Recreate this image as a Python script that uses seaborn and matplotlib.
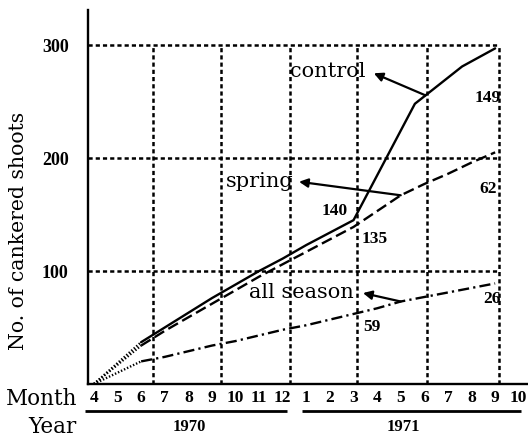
import numpy as np
import pandas as pd
import matplotlib
matplotlib.use("Agg")
import matplotlib.pyplot as plt
import matplotlib.transforms as mtransforms
import seaborn as sns

# ---------------- data (month index 0 = April 1970) ----------------
month_labels = ["4", "5", "6", "7", "8", "9", "10", "11", "12",
                "1", "2", "3", "4", "5", "6", "7", "8", "9", "10"]
years = ["1970", "1971"]
year_spans = [(-0.38, 8.2), (8.8, 18.1)]
year_label_x = [4.05, 13.1]

start_x = [0, 2]
control_start = [0, 37]
spring_start = [0, 34]
allseason_start = [0, 20]

control_x = [2, 3, 4, 5, 6, 7, 8, 9, 10, 11, 13.6, 15.6, 17]
control_y = [37, 50, 63, 76, 88, 100, 111, 123, 134, 145, 248, 281, 297]

spring_x = list(range(2, 18))
spring_y = [34, 47, 59, 71, 83, 95, 106, 117, 128, 139, 153, 167, 177, 186, 196, 205]

allseason_x = list(range(2, 18))
allseason_y = [20, 24, 29, 34, 38, 43, 48, 52, 57, 62, 67, 73, 77, 81, 85, 89]

series_names = ["control", "spring", "all season"]
name_x = [9.9, 7.03, 8.77]
name_y = [277, 179, 81]
arrow_head_x = [11.86, 8.69, 11.4]
arrow_head_y = [275, 179, 80.5]
arrow_tail_x = [14.05, 13, 13]

number_labels = ["140", "135", "59", "149", "62", "26"]
number_x = [10.2, 11.9, 11.78, 16.7, 16.7, 16.85]
number_y = [153, 128, 50, 253, 173, 75]

y_ticks = [100, 200, 300]
grid_x = [2.5, 5.4, 8.3, 11.15, 14.1, 17.15]

# ---------------- style ----------------
sns.set_theme(style="white")
plt.rcParams["font.family"] = ["DejaVu Serif", "DejaVu Sans"]
plt.rcParams["lines.scale_dashes"] = False

fig = plt.figure(figsize=(5.28, 4.38), dpi=100)
ax = fig.add_axes([0.1667, 0.1233, 0.8314, 0.8539])
XMIN, XMAX, YMAX = -0.25, 18.35, 331
ax.set_xlim(XMIN, XMAX)
ax.set_ylim(0, YMAX)

# grid (dotted, only to the last vertical line)
grid_ls = (0, (3.0, 2.2))
ax.vlines(grid_x, 0, y_ticks[-1], colors="black", linestyles=[grid_ls], linewidth=1.8, zorder=1)
ax.hlines(y_ticks, XMIN, grid_x[-1], colors="black", linestyles=[grid_ls], linewidth=1.8, zorder=1)

# early dotted segments
for ys in (control_start, spring_start, allseason_start):
    sns.lineplot(x=start_x, y=ys, ax=ax, color="black", linewidth=1.7,
                 linestyle=(0, (1.0, 1.4)), estimator=None, sort=False, zorder=3)

# main series
df_c = pd.DataFrame({"month": control_x, "shoots": control_y})
df_s = pd.DataFrame({"month": spring_x, "shoots": spring_y})
df_a = pd.DataFrame({"month": allseason_x, "shoots": allseason_y})
sns.lineplot(data=df_c, x="month", y="shoots", ax=ax, color="black", linewidth=1.7,
             linestyle="-", estimator=None, sort=False, zorder=3)
sns.lineplot(data=df_s, x="month", y="shoots", ax=ax, color="black", linewidth=1.7,
             linestyle=(0, (8.0, 3.5)), estimator=None, sort=False, zorder=3)
sns.lineplot(data=df_a, x="month", y="shoots", ax=ax, color="black", linewidth=1.7,
             linestyle=(0, (8.0, 3.0, 1.6, 3.0)), estimator=None, sort=False, zorder=3)

# series name labels with arrows
curves = [(control_x, control_y), (spring_x, spring_y), (allseason_x, allseason_y)]
for name, tx, ty, hx, hy, tailx, (cx, cy) in zip(series_names, name_x, name_y,
                                                 arrow_head_x, arrow_head_y,
                                                 arrow_tail_x, curves):
    ax.text(tx, ty, name, ha="center", va="center", fontsize=15,
            family=["DejaVu Serif"], color="black", zorder=5)
    taily = float(np.interp(tailx, cx, cy))
    ax.annotate("", xy=(hx, hy), xytext=(tailx, taily),
                arrowprops=dict(arrowstyle="-|>", color="black", lw=1.6,
                                mutation_scale=13, shrinkA=0, shrinkB=0), zorder=5)

# number labels
for lab, nx, ny in zip(number_labels, number_x, number_y):
    ax.text(nx, ny, lab, ha="center", va="center", fontsize=12.5,
            family=["Liberation Serif"], fontweight="bold", color="black", zorder=5)

# axes
sns.despine(ax=ax)
for sp in ("left", "bottom"):
    ax.spines[sp].set_linewidth(1.7)
    ax.spines[sp].set_color("black")

ax.set_xticks(range(len(month_labels)))
ax.set_xticklabels(month_labels, fontsize=12.5, family="Liberation Serif", fontweight="bold")
ax.tick_params(axis="x", direction="in", length=4, width=1.3, pad=4, colors="black")
ax.set_yticks(y_ticks)
ax.set_yticklabels([str(v) for v in y_ticks], fontsize=13, family="Liberation Serif",
                   fontweight="bold")
ax.tick_params(axis="y", direction="in", length=0, pad=14, colors="black")
ax.set_xlabel("")
ax.set_ylabel("No. of cankered shoots", fontsize=14.7, family="DejaVu Serif", color="black")
ax.yaxis.set_label_coords(-0.137, 0.41)

# Month / Year row labels
fig.text(0.1458, 0.0753, "Month", ha="right", va="baseline", fontsize=15.5,
         family="DejaVu Serif", color="black")
fig.text(0.1458, 0.0114, "Year", ha="right", va="baseline", fontsize=15.5,
         family="DejaVu Serif", color="black")

# year underlines and labels
blend = mtransforms.blended_transform_factory(ax.transData, ax.transAxes)
for yr, (a, b), lx in zip(years, year_spans, year_label_x):
    ax.plot([a, b], [-0.072, -0.072], transform=blend, color="black", lw=2.0,
            clip_on=False, solid_capstyle="butt")
    ax.text(lx, -0.114, yr, transform=blend, ha="center", va="center", fontsize=12,
            family="Liberation Serif", fontweight="bold", color="black")

fig.savefig("out.png", dpi=100, facecolor="white")
